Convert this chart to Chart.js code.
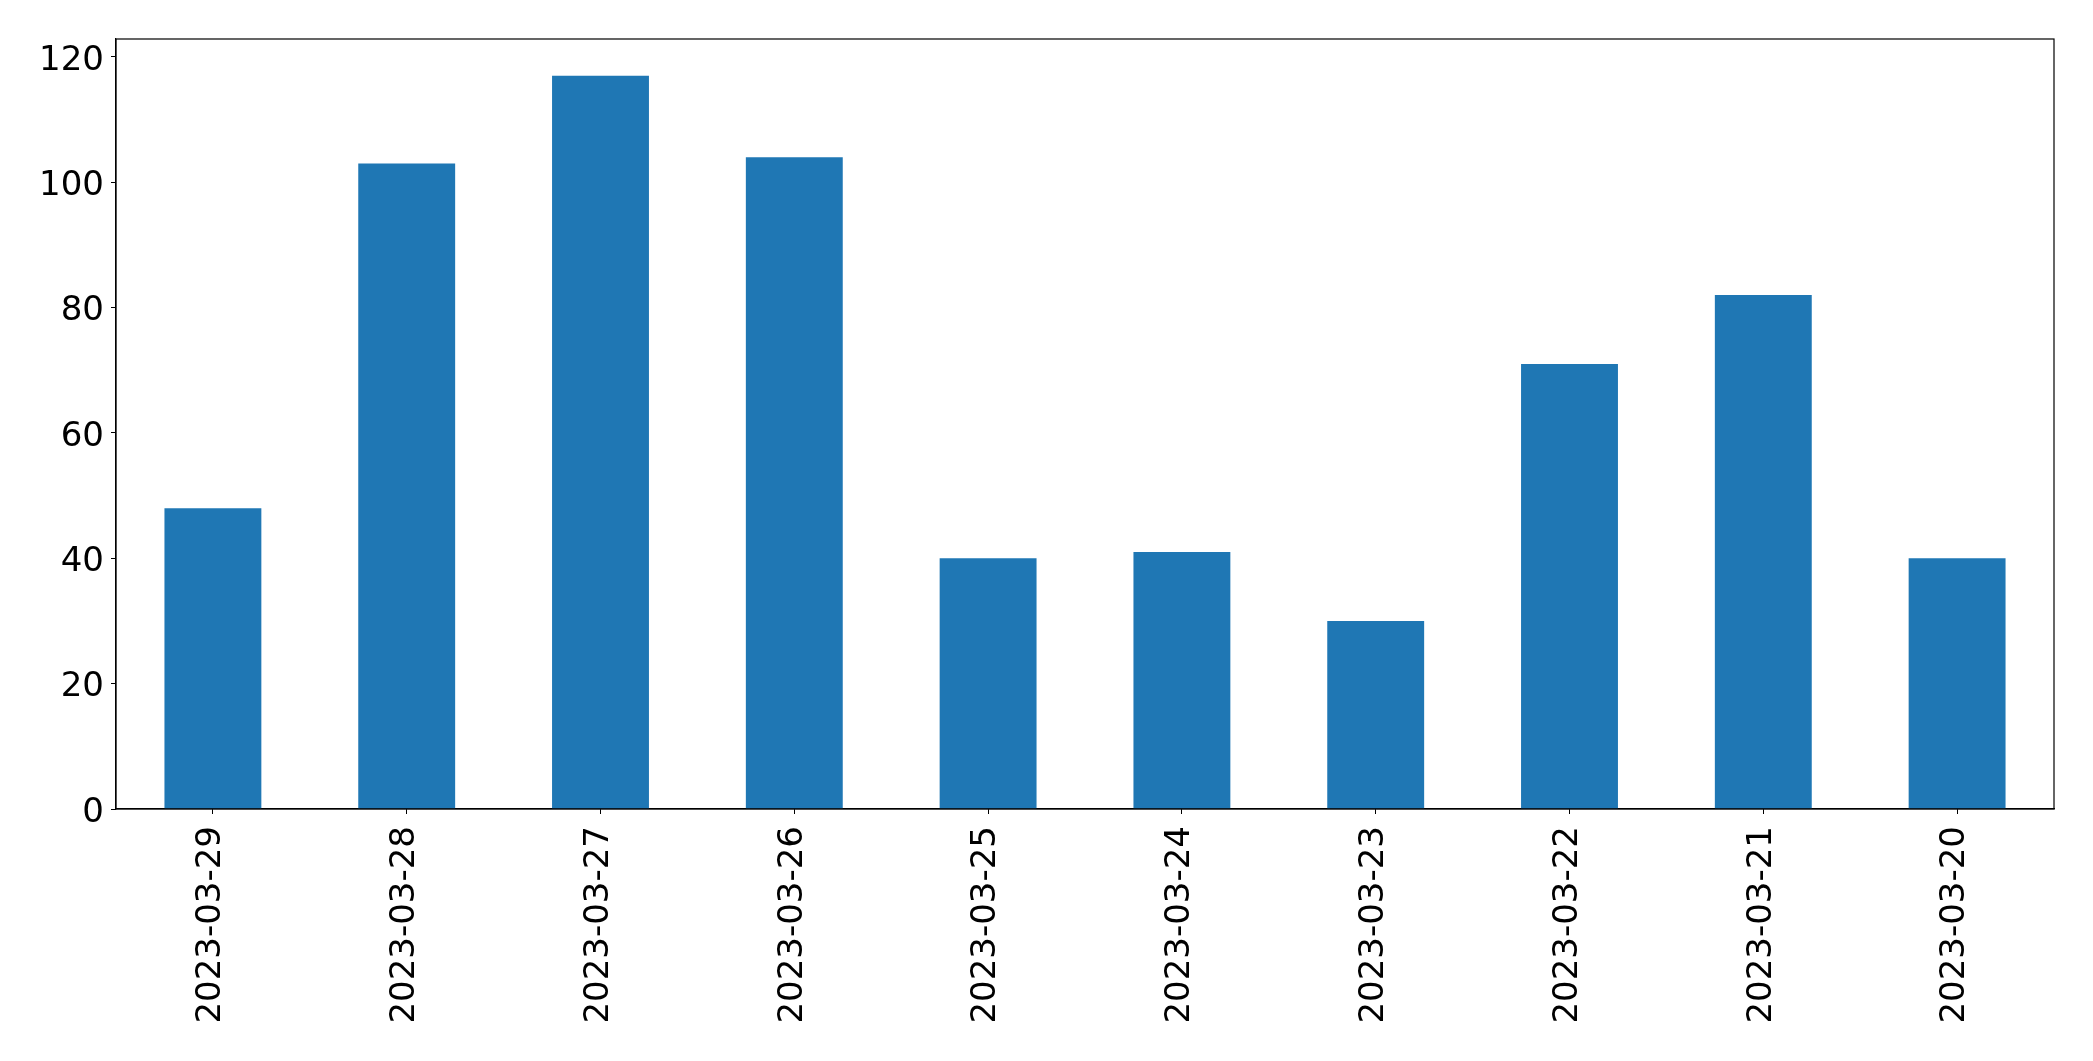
<!DOCTYPE html>
<html>
<head>
<meta charset="utf-8">
<script src="https://cdn.jsdelivr.net/npm/chart.js@4"></script>
<style>
html,body{margin:0;padding:0;background:#fff;}
#wrap{width:2093px;height:1061px;}
</style>
</head>
<body>
<div id="wrap"><canvas id="c" width="2093" height="1061"></canvas></div>
<script>
const categories = ["2023-03-29","2023-03-28","2023-03-27","2023-03-26","2023-03-25","2023-03-24","2023-03-23","2023-03-22","2023-03-21","2023-03-20"];
const values = [48, 103, 117, 104, 40, 41, 30, 71, 82, 40];
const yTicks = [0, 20, 40, 60, 80, 100, 120];

const frame = {
  id: 'frame',
  afterDraw(chart) {
    const {ctx, chartArea: a} = chart;
    ctx.save();
    ctx.strokeStyle = '#000';
    ctx.lineWidth = 1.2;
    ctx.strokeRect(a.left, a.top, a.right - a.left, a.bottom - a.top);
    ctx.restore();
  }
};

const font = {family: 'DejaVu Sans', size: 34};

new Chart(document.getElementById('c'), {
  type: 'bar',
  data: {
    labels: categories,
    datasets: [{
      data: values,
      backgroundColor: '#1f77b4',
      borderWidth: 0,
      barPercentage: 0.5,
      categoryPercentage: 1.0
    }]
  },
  options: {
    responsive: false,
    animation: false,
    devicePixelRatio: 1,
    layout: {padding: {top: 39, right: 39, left: 0, bottom: 0}},
    plugins: {legend: {display: false}, tooltip: {enabled: false}},
    scales: {
      x: {
        offset: true,
        grid: {display: true, drawOnChartArea: false, drawTicks: true, tickLength: 5, tickColor: '#000', offset: false},
        border: {display: true, color: '#000', width: 1.2},
        ticks: {color: '#000', font: font, minRotation: 90, maxRotation: 90, padding: 12, labelOffset: -1.5, autoSkip: false},
        afterFit(s) { s.height = 1061 - 809; }
      },
      y: {
        min: 0,
        max: 122.85,
        afterBuildTicks(s) { s.ticks = yTicks.map(v => ({value: v})); },
        grid: {display: true, drawOnChartArea: false, drawTicks: true, tickLength: 5, tickColor: '#000'},
        border: {display: true, color: '#000', width: 1.2},
        ticks: {color: '#000', font: font, padding: 7, labelOffset: 4},
        afterFit(s) { s.width = 116; }
      }
    }
  },
  plugins: [frame]
});
</script>
</body>
</html>
